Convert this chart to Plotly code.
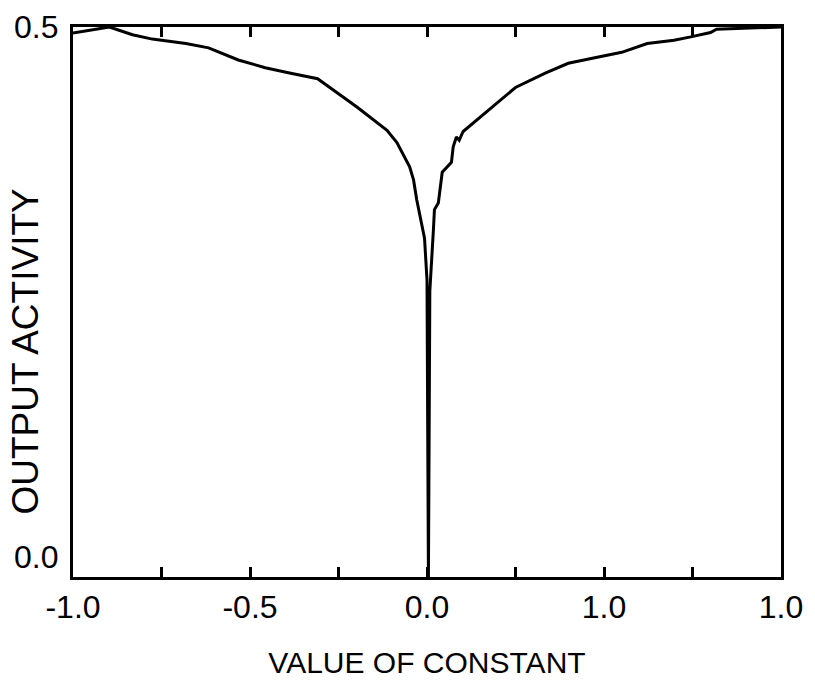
import plotly.graph_objects as go

# curve
x_vals = [-1.000, -0.924, -0.897, -0.832, -0.776, -0.681, -0.617, -0.533, -0.457,
          -0.385, -0.309, -0.197, -0.113, -0.085, -0.049, -0.038, -0.029, -0.007,
          0.000, 0.004, 0.008, 0.018, 0.021, 0.032, 0.043, 0.069, 0.074, 0.083,
          0.091, 0.102, 0.175, 0.214, 0.250, 0.334, 0.399, 0.474, 0.550, 0.622,
          0.698, 0.745, 0.801, 0.818, 0.902, 1.000]
y_vals = [0.4945, 0.499, 0.500, 0.493, 0.489, 0.485, 0.481, 0.470, 0.463,
          0.458, 0.453, 0.427, 0.406, 0.395, 0.373, 0.361, 0.343, 0.308,
          0.270, 0.000, 0.260, 0.315, 0.334, 0.340, 0.368, 0.377, 0.391, 0.400,
          0.397, 0.405, 0.425, 0.435, 0.445, 0.458, 0.467, 0.472, 0.477, 0.485,
          0.488, 0.491, 0.495, 0.498, 0.499, 0.500]

x_tick_vals = [-1.0, -0.75, -0.5, -0.25, 0.0, 0.25, 0.5, 0.75, 1.0]
x_tick_text = ["-1.0", "", "-0.5", "", "0.0", "", "1.0", "", "1.0"]
y_tick_vals = [0.0, 0.5]
y_tick_text = ["0.0", "0.5"]

FONT = "Liberation Sans, Arial, Helvetica, sans-serif"

fig = go.Figure(
    go.Scatter(
        x=x_vals,
        y=y_vals,
        mode="lines",
        line={"color": "black", "width": 3},
        showlegend=False,
        hoverinfo="skip",
    )
)

# y labels as annotations: the "0.0" sits above the axis bottom in the original
for val, txt in zip(y_tick_vals, y_tick_text):
    fig.add_annotation(
        x=0, xref="paper", y=val, yref="y",
        text=txt, showarrow=False,
        xanchor="right", xshift=-13,
        yanchor="bottom" if val == 0 else "middle",
        font={"size": 32, "color": "black", "family": FONT},
    )

fig.add_annotation(
    x=0, xref="paper", xshift=-48, y=0.41, yref="paper",
    text="OUTPUT ACTIVITY", textangle=-90, showarrow=False,
    xanchor="center", yanchor="middle",
    font={"size": 37, "color": "black", "family": FONT},
)

fig.update_layout(
    width=815,
    height=692,
    paper_bgcolor="white",
    plot_bgcolor="white",
    margin={"l": 73, "r": 27, "t": 27, "b": 115},
    font={"family": FONT, "color": "black"},
    xaxis={
        "range": [-1, 1],
        "tickvals": x_tick_vals,
        "ticktext": x_tick_text,
        "ticks": "inside",
        "ticklen": 10,
        "tickwidth": 2.5,
        "tickcolor": "black",
        "tickfont": {"size": 32, "color": "black", "family": FONT},
        "showline": True,
        "linecolor": "black",
        "linewidth": 3,
        "mirror": "ticks",
        "showgrid": False,
        "zeroline": False,
        "title": {"text": "VALUE OF CONSTANT", "font": {"size": 30, "color": "black", "family": FONT}, "standoff": 28},
    },
    yaxis={
        "range": [0, 0.5],
        "showticklabels": False,
        "ticks": "",
        "showline": True,
        "linecolor": "black",
        "linewidth": 3,
        "mirror": True,
        "showgrid": False,
        "zeroline": False,
    },
)

# drop the default 8px page margin so the figure sits at the window's corner
fig.write_html(
    "out.html",
    config={"displayModeBar": False},
    post_script="document.body.style.margin='0';",
)
